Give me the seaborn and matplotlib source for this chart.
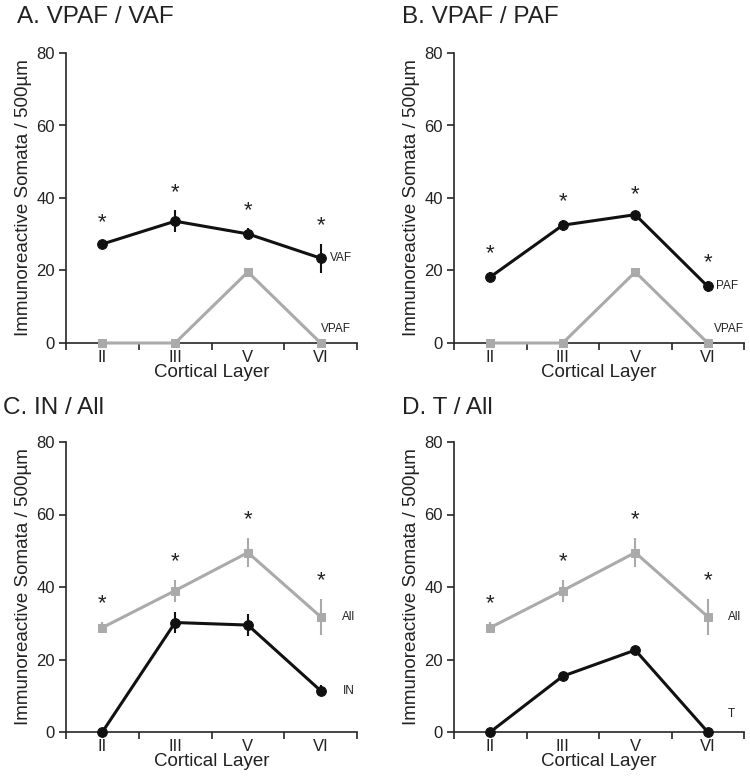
import matplotlib
matplotlib.use("Agg")
import matplotlib.pyplot as plt
import seaborn as sns
import numpy as np

# data
layers = ['II', 'III', 'V', 'VI']

vaf_mean = [27.3, 33.6, 30.1, 23.4]
vaf_err = [1.0, 3.0, 1.5, 4.0]
vpaf_mean = [0.0, 0.0, 19.6, 0.0]
vpaf_err = [0.0, 0.0, 0.0, 0.0]
paf_mean = [18.2, 32.5, 35.4, 15.6]
paf_err = [1.5, 1.5, 0.5, 1.5]
all_mean = [28.8, 39.0, 49.5, 31.8]
all_err = [1.5, 3.0, 4.0, 5.0]
in_mean = [0.0, 30.2, 29.5, 11.4]
in_err = [0.0, 3.0, 3.0, 1.5]
t_mean = [0.0, 15.4, 22.6, 0.0]
t_err = [0.0, 0.0, 0.0, 0.0]

sns.set_style("ticks")
plt.rcParams['font.family'] = ['Liberation Sans', 'DejaVu Sans']
plt.rcParams['text.color'] = '#222222'
plt.rcParams['axes.labelcolor'] = '#222222'

BLACK = '#111111'
GRAY = '#aaaaaa'

fig = plt.figure(figsize=(7.5, 7.77), dpi=100)
W, H = 750, 777


def add_axes(left, top, right, bottom):
    return fig.add_axes([left / W, 1 - bottom / H, (right - left) / W, (bottom - top) / H])


def draw_series(ax, mean, err, color, marker, size):
    x = np.arange(len(layers))
    ax.errorbar(x, mean, yerr=err, fmt='none', ecolor=color, elinewidth=1.5,
                capsize=0, zorder=2, clip_on=False)
    sns.lineplot(x=x, y=mean, ax=ax, color=color, linewidth=2.2, marker=marker,
                 markersize=size, markeredgecolor=color, zorder=3, clip_on=False)


def style_axes(ax, title, tx, ty):
    ax.set_xlim(-0.5, 3.5)
    ax.set_ylim(0, 80)
    ax.set_xticks(range(len(layers)))
    ax.set_xticklabels(layers, fontsize=12, color='#222222')
    ax.set_xticks(np.arange(-0.5, 4.0, 1.0), minor=True)
    ax.tick_params(axis='x', which='major', length=0, pad=5)
    ax.tick_params(axis='x', which='minor', length=5, width=1.2, direction='out')
    ax.set_yticks([0, 20, 40, 60, 80])
    ax.tick_params(axis='y', labelsize=12, length=5, width=1.2, direction='out',
                   labelcolor='#222222', pad=3)
    ax.set_xlabel('Cortical Layer', fontsize=13.5, labelpad=-1)
    ax.set_ylabel('Immunoreactive Somata / 500µm', fontsize=13.5, labelpad=3)
    for side in ['top', 'right']:
        ax.spines[side].set_visible(False)
    for side in ['left', 'bottom']:
        ax.spines[side].set_linewidth(1.2)
    fig.text(tx / W, 1 - ty / H, title, fontsize=17.5, va='center', ha='left')


def stars(ax, mean, err):
    for i, (m, e) in enumerate(zip(mean, err)):
        ax.text(i, m + e + 5, '*', ha='center', va='center', fontsize=16)


# A. VPAF / VAF
axA = add_axes(66, 53, 357, 343)
draw_series(axA, vpaf_mean, vpaf_err, GRAY, 's', 6)
draw_series(axA, vaf_mean, vaf_err, BLACK, 'o', 7)
stars(axA, vaf_mean, vaf_err)
axA.text(3.13, vaf_mean[3], 'VAF', fontsize=8.5, va='center')
axA.text(3.0, 3.8, 'VPAF', fontsize=8.5, va='center')
style_axes(axA, 'A. VPAF / VAF', 17, 17)

# B. VPAF / PAF
axB = add_axes(454, 53, 744, 343)
draw_series(axB, vpaf_mean, vpaf_err, GRAY, 's', 6)
draw_series(axB, paf_mean, paf_err, BLACK, 'o', 7)
stars(axB, paf_mean, paf_err)
axB.text(3.11, paf_mean[3], 'PAF', fontsize=8.5, va='center')
axB.text(3.08, 3.8, 'VPAF', fontsize=8.5, va='center')
style_axes(axB, 'B. VPAF / PAF', 402, 17)

# C. IN / All
axC = add_axes(66, 442, 357, 732)
draw_series(axC, all_mean, all_err, GRAY, 's', 6)
draw_series(axC, in_mean, in_err, BLACK, 'o', 7)
stars(axC, all_mean, all_err)
axC.text(3.3, all_mean[3], 'All', fontsize=8.5, va='center')
axC.text(3.3, in_mean[3], 'IN', fontsize=8.5, va='center')
style_axes(axC, 'C. IN / All', 3, 408)

# D. T / All
axD = add_axes(454, 442, 744, 732)
draw_series(axD, all_mean, all_err, GRAY, 's', 6)
draw_series(axD, t_mean, t_err, BLACK, 'o', 7)
stars(axD, all_mean, all_err)
axD.text(3.28, all_mean[3], 'All', fontsize=8.5, va='center')
axD.text(3.28, 5.0, 'T', fontsize=8.5, va='center')
style_axes(axD, 'D. T / All', 402, 408)

plt.savefig('out.png', dpi=100)
